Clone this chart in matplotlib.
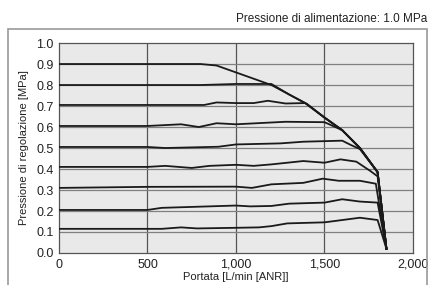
import matplotlib
matplotlib.use('Agg')
import matplotlib.pyplot as plt
from matplotlib.patches import Rectangle
from matplotlib.ticker import FuncFormatter

plt.rcParams['font.family'] = ['Liberation Sans', 'DejaVu Sans']

# curva limite (inviluppo) comune
env_x = [1000, 1100, 1200, 1300, 1400, 1500, 1600, 1700, 1800, 1850]
env_y = [0.86, 0.83, 0.80, 0.755, 0.71, 0.645, 0.585, 0.50, 0.385, 0.02]

# curve per ciascuna pressione di regolazione
x09 = [0, 800, 890] + env_x
y09 = [0.90, 0.90, 0.893] + env_y
x08 = [0, 800, 1000, 1200] + env_x[3:]
y08 = [0.80, 0.80, 0.805, 0.805] + env_y[3:]
x07 = [0, 820, 890, 1000, 1100, 1180, 1280, 1390] + env_x[5:]
y07 = [0.705, 0.705, 0.717, 0.714, 0.714, 0.725, 0.712, 0.714] + env_y[5:]
x06 = [0, 500, 690, 790, 890, 1000, 1280, 1500, 1600, 1700, 1800, 1850]
y06 = [0.605, 0.605, 0.613, 0.600, 0.618, 0.613, 0.625, 0.623, 0.585, 0.50, 0.385, 0.02]
x05 = [0, 500, 600, 900, 1000, 1250, 1380, 1600, 1650, 1700, 1800, 1850]
y05 = [0.505, 0.505, 0.500, 0.506, 0.517, 0.522, 0.530, 0.535, 0.514, 0.495, 0.385, 0.02]
x04 = [0, 500, 600, 750, 850, 1000, 1100, 1200, 1380, 1500, 1590, 1680, 1760, 1800, 1850]
y04 = [0.41, 0.41, 0.415, 0.405, 0.415, 0.42, 0.415, 0.422, 0.438, 0.43, 0.446, 0.435, 0.39, 0.365, 0.02]
x03 = [0, 500, 1000, 1090, 1200, 1380, 1490, 1580, 1700, 1790, 1850]
y03 = [0.31, 0.315, 0.316, 0.31, 0.327, 0.334, 0.354, 0.344, 0.344, 0.33, 0.02]
x02 = [0, 500, 580, 1000, 1080, 1200, 1300, 1500, 1600, 1700, 1800, 1850]
y02 = [0.205, 0.205, 0.215, 0.226, 0.222, 0.224, 0.235, 0.24, 0.256, 0.245, 0.24, 0.02]
x01 = [0, 580, 690, 780, 1000, 1130, 1200, 1290, 1500, 1700, 1800, 1850]
y01 = [0.115, 0.115, 0.122, 0.117, 0.12, 0.122, 0.128, 0.141, 0.146, 0.168, 0.157, 0.02]

curves = [(x09, y09), (x08, y08), (x07, y07), (x06, y06), (x05, y05),
          (x04, y04), (x03, y03), (x02, y02), (x01, y01)]

fig = plt.figure(figsize=(4.29, 2.85), dpi=100)
ax = fig.add_axes([0.1375, 0.1123, 0.8252, 0.7367])
ax.set_facecolor('#e9e9e9')

# griglia
for v in [500, 1000, 1500]:
    ax.axvline(v, color='#555555', lw=0.9, zorder=1)
for h in [0.1, 0.2, 0.3, 0.4, 0.5, 0.6, 0.7, 0.8, 0.9]:
    ax.axhline(h, color='#808080', lw=0.9, zorder=1)

for cx, cy in curves:
    ax.plot(cx, cy, color='#1a1a1a', lw=1.3, zorder=3)

ax.set_xlim(0, 2000)
ax.set_ylim(0, 1.0)
ax.set_xticks([0, 500, 1000, 1500, 2000])
ax.set_yticks([0, 0.1, 0.2, 0.3, 0.4, 0.5, 0.6, 0.7, 0.8, 0.9, 1.0])
ax.xaxis.set_major_formatter(FuncFormatter(lambda v, p: f'{int(v):,}'))
ax.yaxis.set_major_formatter(FuncFormatter(lambda v, p: f'{v:.1f}'))
ax.tick_params(length=0, labelsize=9, colors='#222222', pad=4)
for s in ax.spines.values():
    s.set_color('#555555')
    s.set_linewidth(0.9)

ax.set_xlabel('Portata [L/min [ANR]]', fontsize=8, color='#222222', labelpad=1)
ax.set_ylabel('Pressione di regolazione [MPa]', fontsize=8, color='#222222', labelpad=5)

fig.text(0.995, 0.933, 'Pressione di alimentazione: 1.0 MPa', fontsize=8.5,
         ha='right', va='center', color='#222222')

# cornice esterna
fig.patches.append(Rectangle((8 / 429, -0.05), 419 / 429, 1 - 29 / 285 + 0.05,
                             transform=fig.transFigure, fill=False,
                             edgecolor='#9a9a9a', lw=1.2))

fig.savefig('out.png', dpi=100)
